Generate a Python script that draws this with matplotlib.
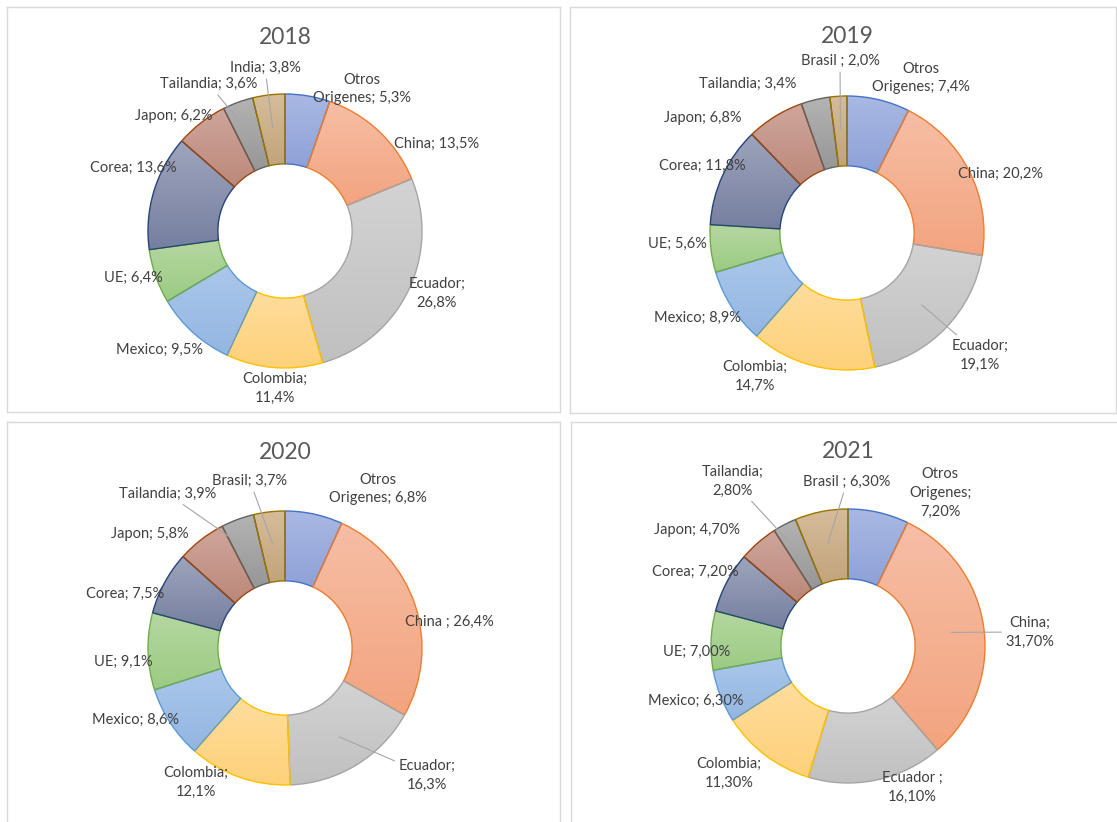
import numpy as np
import matplotlib
matplotlib.use("Agg")
import matplotlib.pyplot as plt
from matplotlib.colors import LinearSegmentedColormap

plt.rcParams['font.family'] = ['Lato', 'DejaVu Sans']

# data: share of imports by origin, order = clockwise from 12 o'clock
years = ['2018', '2019', '2020', '2021']

shares_2018 = [5.3, 13.5, 26.8, 11.4, 9.5, 6.4, 13.6, 6.2, 3.6, 3.8]
shares_2019 = [7.4, 20.2, 19.1, 14.7, 8.9, 5.6, 11.8, 6.8, 3.4, 2.0]
shares_2020 = [6.8, 26.4, 16.3, 12.1, 8.6, 9.1, 7.5, 5.8, 3.9, 3.7]
shares_2021 = [7.2, 31.7, 16.1, 11.3, 6.3, 7.0, 7.2, 4.7, 2.8, 6.3]

labels_2018 = ['Otros\nOrigenes; 5,3%', 'China; 13,5%', 'Ecuador;\n26,8%', 'Colombia;\n11,4%',
               'Mexico; 9,5%', 'UE; 6,4%', 'Corea; 13,6%', 'Japon; 6,2%',
               'Tailandia; 3,6%', 'India; 3,8%']
labels_2019 = ['Otros\nOrigenes; 7,4%', 'China; 20,2%', 'Ecuador;\n19,1%', 'Colombia;\n14,7%',
               'Mexico; 8,9%', 'UE; 5,6%', 'Corea; 11,8%', 'Japon; 6,8%',
               'Tailandia; 3,4%', 'Brasil ; 2,0%']
labels_2020 = ['Otros\nOrigenes; 6,8%', 'China ; 26,4%', 'Ecuador;\n16,3%', 'Colombia;\n12,1%',
               'Mexico; 8,6%', 'UE; 9,1%', 'Corea; 7,5%', 'Japon; 5,8%',
               'Tailandia; 3,9%', 'Brasil; 3,7%']
labels_2021 = ['Otros\nOrigenes;\n7,20%', 'China;\n31,70%', 'Ecuador ;\n16,10%', 'Colombia;\n11,30%',
               'Mexico; 6,30%', 'UE; 7,00%', 'Corea; 7,20%', 'Japon; 4,70%',
               'Tailandia;\n2,80%', 'Brasil ; 6,30%']

shares = [shares_2018, shares_2019, shares_2020, shares_2021]
labels = [labels_2018, labels_2019, labels_2020, labels_2021]

# excel-like gradient fills (top, bottom) and outline colours
grad_top = ['#a9b8e3', '#f6bea5', '#d3d3d3', '#fedd9c', '#abc7ea',
            '#b5d7a1', '#9ea4bc', '#cfa69b', '#b3b3b3', '#d6bc9a']
grad_bot = ['#8ea2d8', '#f3a47f', '#c0c0c0', '#fed17a', '#93b6e2',
            '#9ccb83', '#767fa0', '#bb887a', '#979797', '#c2a47c']
edges = ['#4472c4', '#ed7d31', '#a5a5a5', '#ffc000', '#5b9bd5',
         '#70ad47', '#264478', '#9e480e', '#636363', '#997300']

# layout in pixels of the 1117x822 picture
W, H = 1117, 822
boxes = [(7, 7, 560, 412), (570, 7, 1116, 413), (7, 422, 560, 830), (571, 422, 1125, 830)]
centers = [(285, 231), (847, 233), (285, 648), (848, 646)]
R = 137
title_y = [37, 37, 452, 452]
label_pos = [
    [(362, 89), (437, 144), (437, 293), (275, 388), (160, 350), (133, 278),
     (133, 168), (174, 116), (209, 84), (265, 68)],
    [(921, 78), (1000, 174), (980, 355), (755, 376), (697, 318), (677, 244),
     (702, 166), (703, 118), (748, 84), (840, 61)],
    [(378, 489), (449, 622), (427, 775), (196, 782), (135, 720), (123, 662),
     (125, 594), (150, 534), (168, 494), (250, 481)],
    [(940, 493), (1030, 632), (912, 787), (729, 773), (696, 701), (697, 652),
     (695, 572), (697, 530), (733, 481), (847, 482)],
]
leaders = [[8, 9], [9, 2], [8, 9, 2], [8, 9, 1]]

fig = plt.figure(figsize=(W / 100, H / 100), dpi=100)

for k in range(4):
    x0, y0, x1, y1 = boxes[k]
    cx, cy = centers[k]
    ax = fig.add_axes([x0 / W, 1 - y1 / H, (x1 - x0) / W, (y1 - y0) / H])
    wedges, _ = ax.pie(shares[k], radius=R, startangle=90, counterclock=False,
                       frame=True, wedgeprops=dict(width=R * 0.51, linewidth=1.0))
    for i, w in enumerate(wedges):
        ex = w.get_path().get_extents()
        cmap = LinearSegmentedColormap.from_list('g', [grad_top[i], grad_bot[i]])
        ax.imshow(np.linspace(0, 1, 64)[:, None], cmap=cmap, aspect='auto',
                  extent=(ex.x0, ex.x1, ex.y0, ex.y1), origin='upper',
                  interpolation='bilinear', clip_path=w, zorder=1)
        w.set_facecolor('none')
        w.set_edgecolor(edges[i])
        w.set_zorder(2)

        lx, ly = label_pos[k][i]
        pos = (lx - cx, cy - ly)
        if i in leaders[k]:
            a = np.deg2rad((w.theta1 + w.theta2) / 2)
            tip = (0.76 * R * np.cos(a), 0.76 * R * np.sin(a))
            ax.annotate(labels[k][i], xy=tip, xytext=pos, ha='center', va='center',
                        fontsize=10.5, color='#404040', zorder=3, linespacing=1.45,
                        arrowprops=dict(arrowstyle='-', color='#a6a6a6', lw=0.8,
                                        shrinkA=1, shrinkB=0))
        else:
            ax.text(pos[0], pos[1], labels[k][i], ha='center', va='center',
                    fontsize=10.5, color='#404040', zorder=3, linespacing=1.45)

    ax.text(0, cy - title_y[k], years[k], ha='center', va='center',
            fontsize=16.5, color='#595959')
    ax.set_xlim(x0 - cx, x1 - cx)
    ax.set_ylim(cy - y1, cy - y0)
    ax.set_xticks([])
    ax.set_yticks([])
    for s in ax.spines.values():
        s.set_color('#d9d9d9')
        s.set_linewidth(1.0)

fig.savefig('out.png', dpi=100)
